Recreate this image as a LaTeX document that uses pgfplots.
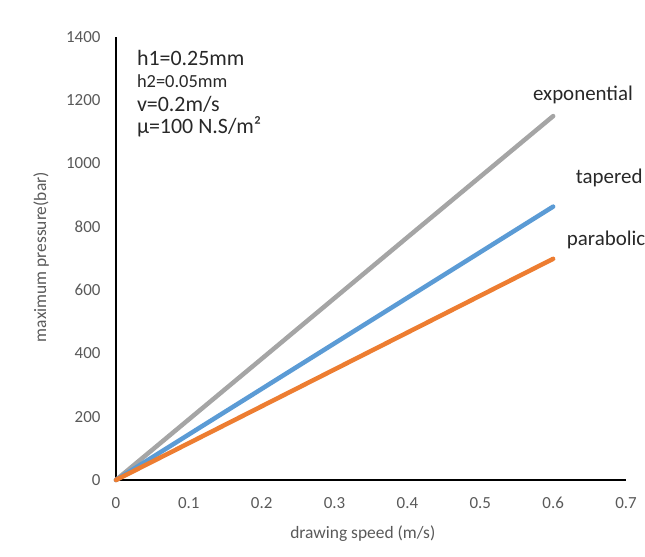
\documentclass[border=0pt]{standalone}
\usepackage{pgfplots}
\pgfplotsset{compat=1.18}
\usepackage{fontspec}
\setmainfont{Carlito}
\definecolor{exgray}{RGB}{165,165,165}
\definecolor{exblue}{RGB}{91,155,213}
\definecolor{exorange}{RGB}{237,125,49}
\definecolor{ticktext}{RGB}{89,89,89}
\definecolor{notetext}{RGB}{40,40,40}
\begin{document}
\begin{tikzpicture}[x=1bp,y=1bp]
\useasboundingbox (0,0) rectangle (645,557);
\begin{axis}[
    at={(116bp,77bp)}, anchor=south west,
    scale only axis, width=510bp, height=443bp,
    xmin=0, xmax=0.7, ymin=0, ymax=1400,
    axis x line=bottom, axis y line=left,
    axis line style={black, line width=1.3pt, -},
    xtick={0,0.1,...,0.7}, ytick={0,200,...,1400},
    major tick length=0pt,
    tick label style={font=\fontsize{17}{20}\selectfont, text=ticktext},
    /pgf/number format/assume math mode=true,
    xticklabel style={yshift=-14bp},
    yticklabel style={xshift=-12bp},
    xticklabel={\pgfmathprintnumber[fixed,precision=1]{\tick}},
    yticklabel={\pgfmathprintnumber[fixed,1000 sep={}]{\tick}},
    xlabel={drawing speed (m/s)},
    ylabel={maximum pressure(bar)},
    label style={font=\fontsize{17.5}{20}\selectfont, text=ticktext},
    xlabel style={at={(axis description cs:0.484,-0.12)}, anchor=center},
    ylabel style={at={(axis description cs:-0.147,0.503)}, anchor=center},
    clip=false,
    every axis plot/.append style={line width=4.5bp, line cap=round, mark=none},
]
\addplot[exgray] coordinates {(0,0) (0.2,383) (0.4,767) (0.6,1150)};
\addplot[exblue] coordinates {(0,0) (0.2,288) (0.4,576) (0.6,864)};
\addplot[exorange] coordinates {(0,0) (0.2,233) (0.4,466) (0.6,699)};
\begin{scope}[every node/.style={text=notetext}]
\node[font=\fontsize{22}{24}\selectfont, anchor=west] at (axis cs:0.024,1334) {h1=0.25mm};
\node[font=\fontsize{18.5}{20}\selectfont, anchor=west] at (axis cs:0.024,1261) {h2=0.05mm};
\node[font=\fontsize{22}{24}\selectfont, anchor=west] at (axis cs:0.024,1188) {v=0.2m/s};
\node[font=\fontsize{22}{24}\selectfont, anchor=west] at (axis cs:0.024,1116) {µ=100 N.S/m²};
\node[font=\fontsize{21}{24}\selectfont] at (axis cs:0.641,1217) {exponential};
\node[font=\fontsize{21}{24}\selectfont] at (axis cs:0.677,954) {tapered};
\node[font=\fontsize{21}{24}\selectfont, anchor=west] at (axis cs:0.614,758) {parabolic};
\end{scope}
\end{axis}
\end{tikzpicture}
\end{document}
